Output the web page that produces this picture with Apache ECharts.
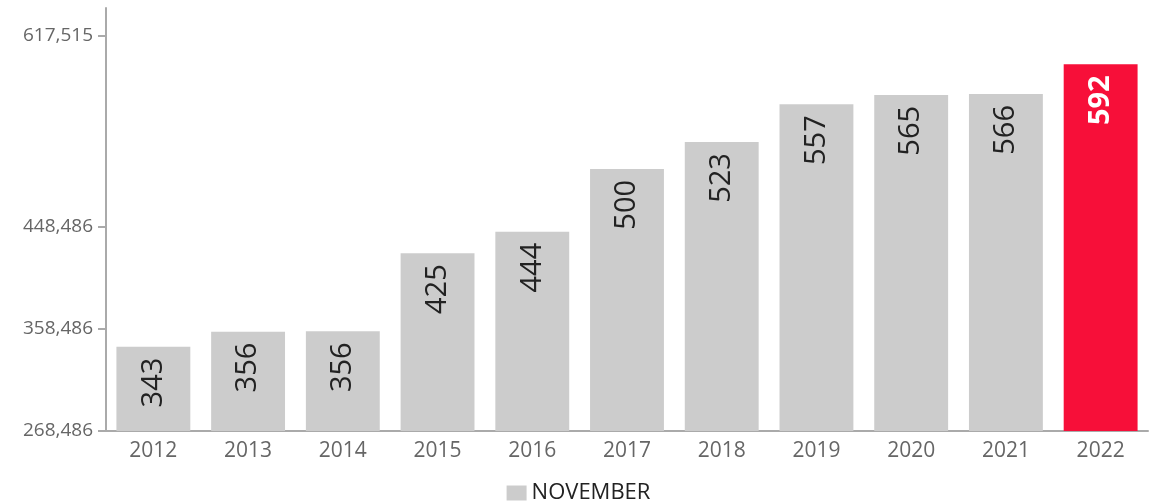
<!DOCTYPE html>
<html>
<head>
<meta charset="utf-8">
<script src="https://cdn.jsdelivr.net/npm/echarts@6/dist/echarts.min.js"></script>
<style>
  html, body { margin: 0; padding: 0; background: #fff; }
  #container { width: 1157px; height: 502px; }
</style>
</head>
<body>
<div id="container"></div>
<script>
var years = ['2012', '2013', '2014', '2015', '2016', '2017', '2018', '2019', '2020', '2021', '2022'];
var novemberValues = [342900, 356100, 356400, 425300, 444300, 499700, 523400, 556800, 565000, 565800, 592000];
var yTickValues = [268486, 358486, 448486, 617515];
var yMin = 268486;
var yMax = 641700;

var dom = document.getElementById('container');
var myChart = echarts.init(dom);

var barData = novemberValues.map(function (v, i) {
    var last = i === novemberValues.length - 1;
    return {
        value: v,
        itemStyle: { color: last ? '#f70f39' : '#cccccc' },
        label: last ? { color: '#ffffff', fontWeight: 'bold' } : {}
    };
});

var option = {
    animation: false,
    textStyle: { fontFamily: 'Open Sans' },
    grid: { left: 106, right: 9, top: 8, bottom: 71, containLabel: false },
    legend: {
        top: 477,
        left: 'center',
        itemWidth: 20,
        itemHeight: 15,
        icon: 'rect',
        textStyle: { fontSize: 22, color: '#222', fontFamily: 'Open Sans' },
        data: ['NOVEMBER']
    },
    xAxis: {
        type: 'category',
        data: years,
        axisLine: { lineStyle: { color: '#aaaaaa', width: 2 } },
        axisTick: { alignWithLabel: true, length: 6, lineStyle: { color: '#aaaaaa', width: 2 } },
        axisLabel: { fontSize: 21, color: '#666666', margin: 10, fontFamily: 'Open Sans' }
    },
    yAxis: {
        type: 'value',
        min: yMin,
        max: yMax,
        splitLine: { show: false },
        axisLine: { show: true, lineStyle: { color: '#aaaaaa', width: 2 } },
        axisTick: { show: true, length: 8, customValues: yTickValues, lineStyle: { color: '#aaaaaa', width: 2 } },
        axisLabel: {
            customValues: yTickValues,
            fontSize: 19,
            color: '#666666',
            margin: 13,
            fontFamily: 'Open Sans',
            formatter: function (v) { return v.toLocaleString('en-US'); }
        }
    },
    series: [{
        name: 'NOVEMBER',
        type: 'bar',
        barCategoryGap: '22%',
        itemStyle: { color: '#cccccc' },
        label: {
            show: true,
            position: 'insideTop',
            distance: 11,
            rotate: 90,
            align: 'right',
            verticalAlign: 'middle',
            fontSize: 29,
            color: '#222222',
            fontFamily: 'Open Sans',
            formatter: function (p) { return Math.round(p.value / 1000); }
        },
        data: barData
    }]
};

myChart.setOption(option, true);
</script>
</body>
</html>
